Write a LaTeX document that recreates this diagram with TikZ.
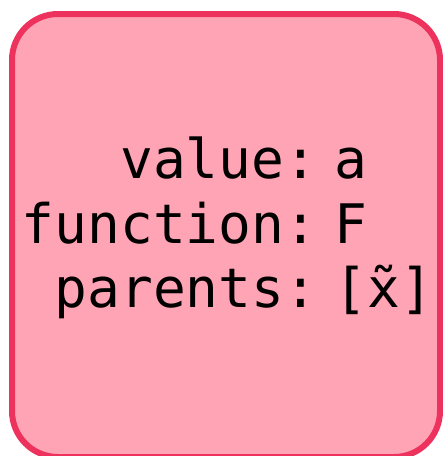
\documentclass[tikz,border=0pt]{standalone}
\usepackage{fontspec}
\newfontfamily\monofam{DejaVu Sans Mono}
\definecolor{boxfill}{HTML}{FFA4B5}
\definecolor{boxline}{HTML}{EE325E}
\begin{document}
\begin{tikzpicture}[x=1pt,y=-1pt,
  frame/.style={draw=boxline, fill=boxfill, line width=6pt, rounded corners=46pt},
  txt/.style={inner sep=0pt, font=\monofam\fontsize{54.5}{64.5}\selectfont, text=black}]
\useasboundingbox (0,0) rectangle (443,456);
\draw[frame] (12,14) rectangle (440,457);
\node[txt, anchor=base east] (k1) at (317.4,178) {value:};
\node[txt, anchor=base east] (k2) at (317.4,243) {function:};
\node[txt, anchor=base east] (k3) at (317.4,307) {parents:};
\node[txt, anchor=base west] (v1) at (334.5,178) {a};
\node[txt, anchor=base west] (v2) at (334.5,243) {F};
\node[txt, anchor=base west] (v3) at (334.5,307) {[x̃]};
\end{tikzpicture}
\end{document}
